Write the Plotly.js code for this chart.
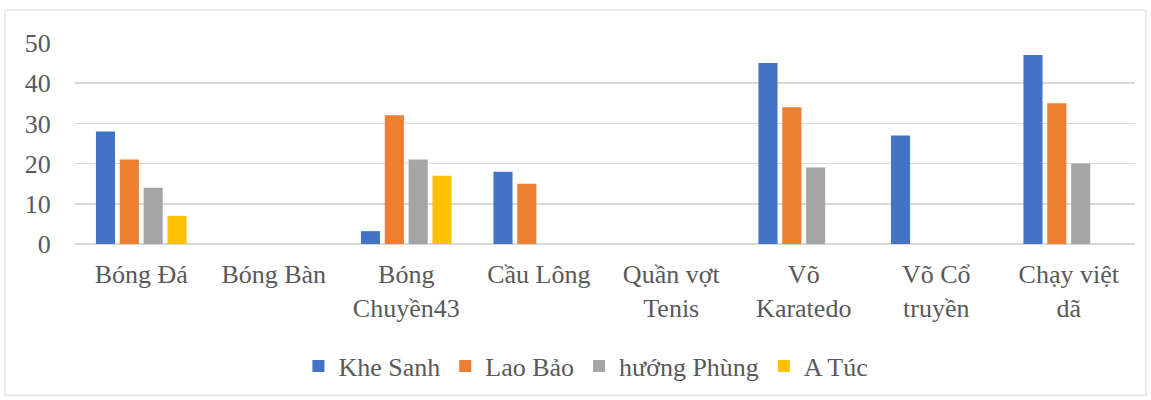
<!DOCTYPE html>
<html>
<head>
<meta charset="utf-8">
<script src="https://cdn.plot.ly/plotly-3.0.1.min.js"></script>
<style>
html,body{margin:0;padding:0;background:#fff;}
#chart{width:1151px;height:400px;}
</style>
</head>
<body>
<div id="chart"></div>
<script>
const categories = ["Bóng Đá", "Bóng Bàn", "Bóng<br>Chuyền43", "Cầu Lông", "Quần vợt<br>Tenis", "Võ<br>Karatedo", "Võ Cổ<br>truyền", "Chạy việt<br>dã"];
const seriesNames = ["Khe Sanh", "Lao Bảo", "hướng Phùng", "A Túc"];
const kheSanh   = [28, 0, 3.2, 18, 0, 45, 27, 47];
const laoBao    = [21, 0, 32, 15, 0, 34, 0, 35];
const huongPhung= [14, 0, 21, 0, 0, 19, 0, 20];
const aTuc      = [7, 0, 17, 0, 0, 0, 0, 0];
const yTicks = [0, 10, 20, 30, 40, 50];
const colors = ["#4472C4", "#ED7D31", "#A5A5A5", "#FFC000"];

const seriesValues = [kheSanh, laoBao, huongPhung, aTuc];
const font = "Liberation Serif";
const fsize = 26;

const traces = seriesValues.map((vals, i) => ({
  type: "bar",
  name: seriesNames[i],
  x: categories,
  y: vals,
  marker: {color: colors[i], line: {width: 0}},
  hoverinfo: "skip"
}));

const layout = {
  width: 1151,
  height: 400,
  margin: {l: 75, r: 16, t: 43, b: 155},
  paper_bgcolor: "#fff",
  plot_bgcolor: "#fff",
  barmode: "group",
  bargap: 0.28,
  bargroupgap: 0.2,
  font: {family: font, size: fsize, color: "#595959"},
  xaxis: {
    type: "category",
    tickfont: {family: font, size: fsize, color: "#595959"},
    ticks: "outside",
    ticklen: 7,
    tickcolor: "rgba(0,0,0,0)",
    showgrid: false,
    showline: false,
    zeroline: false
  },
  yaxis: {
    range: [0, 50],
    tickvals: yTicks,
    ticktext: yTicks.map(String),
    tickfont: {family: font, size: fsize, color: "#595959"},
    ticks: "outside",
    ticklen: 18,
    tickcolor: "rgba(0,0,0,0)",
    showgrid: true,
    gridcolor: "#d9d9d9",
    gridwidth: 1.5,
    zeroline: true,
    zerolinecolor: "#d9d9d9",
    zerolinewidth: 1.5,
    showline: false
  },
  legend: {
    orientation: "h",
    x: 0.482,
    xanchor: "center",
    y: -0.6,
    yanchor: "middle",
    font: {family: font, size: fsize, color: "#595959"},
    itemclick: false
  },
  showlegend: true,
  shapes: [{
    type: "rect",
    xref: "paper", yref: "paper",
    x0: -70/1060, x1: 1 + 11/1060,
    y0: -152/202, y1: 1 + 33/202,
    line: {color: "#d9d9d9", width: 1},
    fillcolor: "rgba(0,0,0,0)"
  }]
};

Plotly.newPlot("chart", traces, layout, {staticPlot: true, displayModeBar: false});
</script>
</body>
</html>
